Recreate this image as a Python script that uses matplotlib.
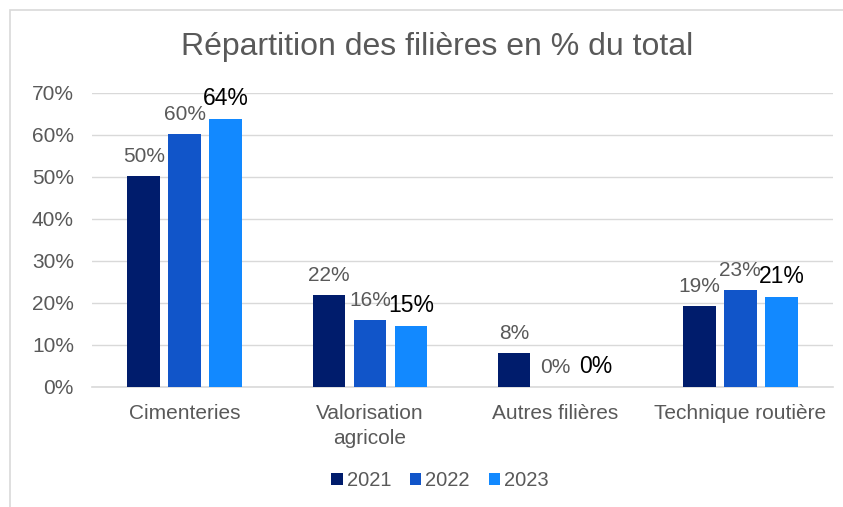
import matplotlib
matplotlib.use("Agg")
import matplotlib.pyplot as plt
import numpy as np
from matplotlib.patches import Rectangle

plt.rcParams['font.family'] = ['Liberation Sans', 'DejaVu Sans']

categories = ["Cimenteries", "Valorisation\nagricole", "Autres filières", "Technique routière"]
years = ["2021", "2022", "2023"]
v2021 = [50.3, 21.9, 8.2, 19.3]
v2022 = [60.3, 16.0, 0.0, 23.1]
v2023 = [63.8, 14.5, 0.0, 21.4]
labels2021 = ["50%", "22%", "8%", "19%"]
labels2022 = ["60%", "16%", "0%", "23%"]
labels2023 = ["64%", "15%", "0%", "21%"]
yticks = [0, 10, 20, 30, 40, 50, 60, 70]
ytick_labels = ["0%", "10%", "20%", "30%", "40%", "50%", "60%", "70%"]

colors = ["#001C6C", "#1155C9", "#1289FF"]
series = [v2021, v2022, v2023]
series_labels = [labels2021, labels2022, labels2023]

W, H = 843, 507
fig = plt.figure(figsize=(W / 100, H / 100), dpi=100)
fig.patches.append(Rectangle((10 / W, -0.05), 1.1, 1 - 10 / H + 0.05, transform=fig.transFigure,
                             fill=False, edgecolor="#D9D9D9", linewidth=1.2))

ax = fig.add_axes([92 / W, 1 - 387 / H, (833 - 92) / W, (387 - 93) / H])
x = np.arange(len(categories))
bw = 0.176
step = 0.221
gray = "#595959"
for i, (vals, labs, c) in enumerate(zip(series, series_labels, colors)):
    xs = x + (i - 1) * step
    ax.bar(xs, vals, width=bw, color=c, label=years[i], zorder=3)
    for xi, v, lab in zip(xs, vals, labs):
        if i == 2:
            ax.annotate(lab, (xi, v), xytext=(0, 10), textcoords="offset points",
                        ha="center", va="baseline", fontsize=16.5, color="black")
        else:
            ax.annotate(lab, (xi, v), xytext=(0, 10), textcoords="offset points",
                        ha="center", va="baseline", fontsize=15, color=gray)

ax.set_xlim(-0.5, 3.5)
ax.set_ylim(0, 70)
ax.set_yticks(yticks)
ax.set_yticklabels(ytick_labels, fontsize=15, color=gray)
ax.set_xticks(x)
ax.set_xticklabels(categories, fontsize=15, color=gray, linespacing=1.4)
ax.tick_params(length=0)
ax.tick_params(axis="x", pad=12)
ax.tick_params(axis="y", pad=13)
ax.grid(axis="y", color="#D9D9D9", linewidth=1, zorder=0)
for s in ["top", "right", "left"]:
    ax.spines[s].set_visible(False)
ax.spines["bottom"].set_color("#D9D9D9")
ax.spines["bottom"].set_linewidth(1.2)

fig.text(0.519, 1 - 47 / H, "Répartition des filières en % du total", ha="center", va="center",
         fontsize=23, color=gray)

leg = fig.legend(loc="center", bbox_to_anchor=(0.522, 1 - 481 / H), ncol=3, frameon=False,
                 fontsize=14.5, handlelength=0.55, handleheight=0.55, handletextpad=0.2,
                 columnspacing=0.95)
for t in leg.get_texts():
    t.set_color(gray)

fig.savefig("out.png", dpi=100)
